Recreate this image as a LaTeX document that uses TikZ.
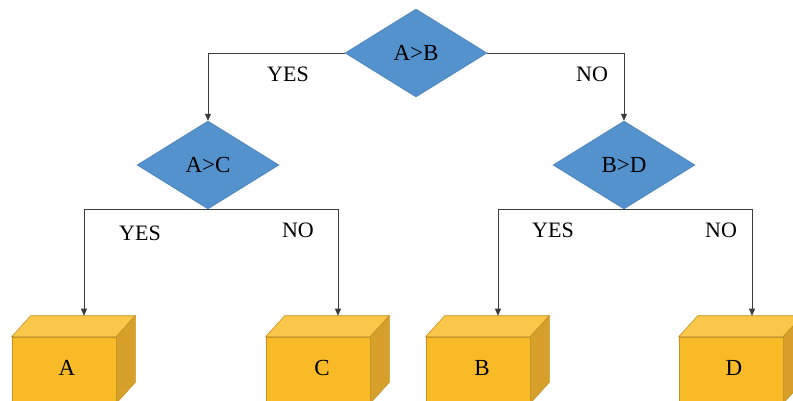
\documentclass[tikz,border=0pt]{standalone}
\usepackage{fontspec}
\setmainfont{Liberation Serif}
\usetikzlibrary{shapes.geometric,arrows.meta,calc}
\definecolor{dblue}{RGB}{84,146,206}
\definecolor{dblueedge}{RGB}{70,125,180}
\definecolor{gfront}{RGB}{248,186,38}
\definecolor{gtop}{RGB}{250,199,74}
\definecolor{gside}{RGB}{214,160,42}
\definecolor{gedge}{RGB}{196,146,30}
\definecolor{lin}{RGB}{60,60,60}
\newcommand\drawcube[1]{%
  \fill[gtop,draw=gedge,line width=0.6pt] (#1.north west) -- ($(#1.north west)+(19,-21)$) -- ($(#1.north east)+(19,-21)$) -- (#1.north east) -- cycle;
  \fill[gside,draw=gedge,line width=0.6pt] (#1.north east) -- ($(#1.north east)+(19,-21)$) -- ($(#1.south east)+(19,-21)$) -- (#1.south east) -- cycle;
}
\begin{document}
\begin{tikzpicture}[x=1pt,y=-1pt,
  decision/.style={diamond,fill=dblue,draw=dblueedge,line width=0.5pt,minimum width=142pt,minimum height=88pt,aspect=1.6,inner sep=0pt,font=\fontsize{23}{26}\selectfont},
  front/.style={rectangle,fill=gfront,draw=gedge,line width=0.6pt,minimum width=104pt,minimum height=66pt,inner sep=0pt},
  cubetext/.style={inner sep=0pt,font=\fontsize{23}{26}\selectfont},
  lbl/.style={font=\fontsize{22}{26}\selectfont,inner sep=0pt},
  conn/.style={draw=lin,line width=0.7pt},
  arr/.style={conn,-{Triangle[length=7pt,width=6pt]}}]
\useasboundingbox (0,0) rectangle (793,400);
\clip (0,0) rectangle (793,400);
% decisions
\node[decision] (ab) at (416,53) {A>B};
\node[decision] (ac) at (208,165) {A>C};
\node[decision] (bd) at (624,165) {B>D};
% boxes (front faces)
\node[front] (fA) at (64,370) {};
\node[front] (fC) at (318,370) {};
\node[front] (fB) at (478,370) {};
\node[front] (fD) at (731,370) {};
\drawcube{fA}
\drawcube{fC}
\drawcube{fB}
\drawcube{fD}
\node[cubetext] (tA) at (67,368) {A};
\node[cubetext] (tC) at (322,368) {C};
\node[cubetext] (tB) at (482,368) {B};
\node[cubetext] (tD) at (734,368) {D};
% arrow targets (back edge of top faces)
\coordinate (eA) at ($(fA.north)+(20,-21)$);
\coordinate (eC) at ($(fC.north)+(20,-21)$);
\coordinate (eB) at ($(fB.north)+(20,-21)$);
\coordinate (eD) at ($(fD.north)+(21,-21)$);
% connectors
\draw[arr] (ab.west) -| (ac.north);
\draw[arr] (ab.east) -| (bd.north);
\draw[arr] (ac.south) -| (eA);
\draw[arr] (ac.south) -| (eC);
\draw[arr] (bd.south) -| (eB);
\draw[arr] (bd.south) -| (eD);
% labels
\node[lbl] (y1) at (288,74) {YES};
\node[lbl] (n1) at (592,74) {NO};
\node[lbl] (y2) at (140,233) {YES};
\node[lbl] (n2) at (298,230) {NO};
\node[lbl] (y3) at (553,230) {YES};
\node[lbl] (n3) at (721,230) {NO};
\end{tikzpicture}
\end{document}
